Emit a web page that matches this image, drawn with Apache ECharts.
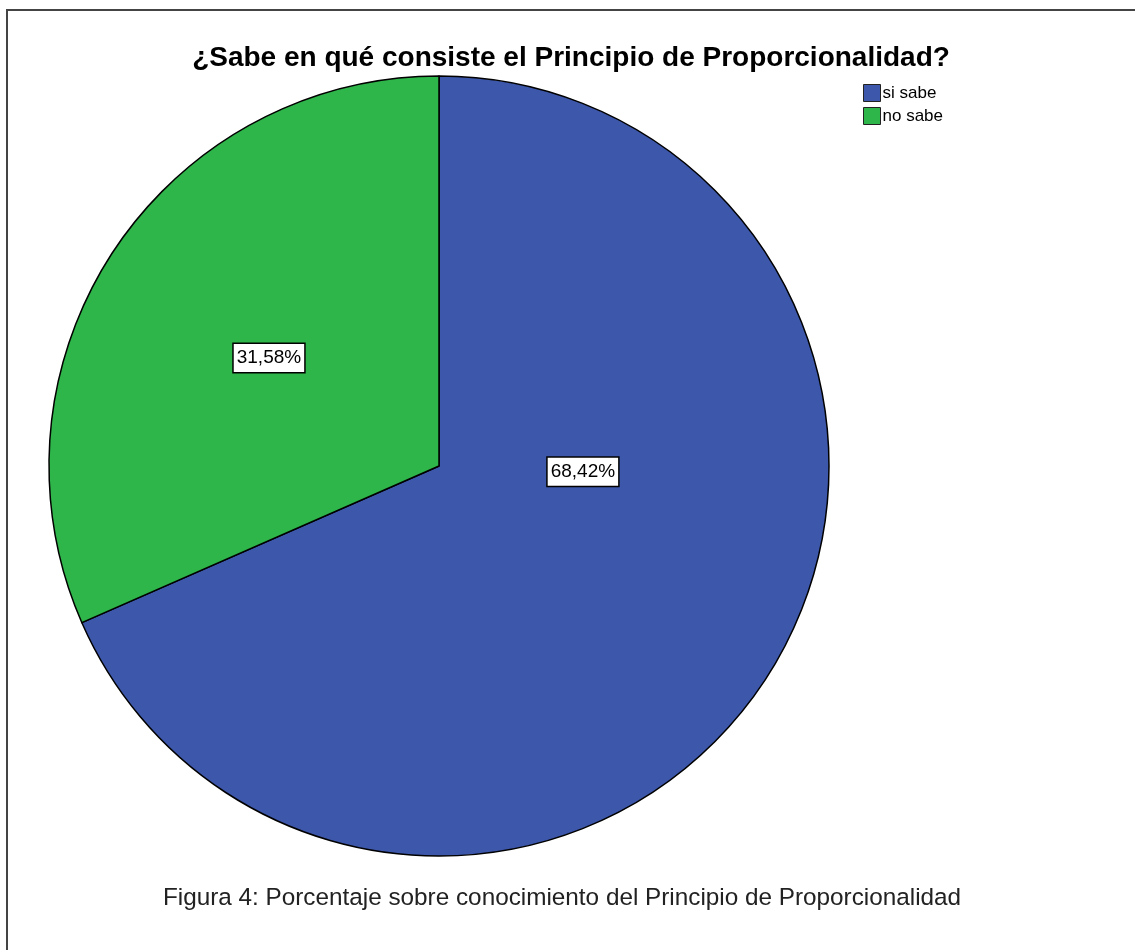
<!DOCTYPE html>
<html>
<head>
<meta charset="utf-8">
<script src="https://cdn.jsdelivr.net/npm/echarts@6/dist/echarts.min.js"></script>
<style>
html,body{margin:0;padding:0;background:#fff;}
#main{width:1135px;height:950px;}
</style>
</head>
<body>
<div id="main"></div>
<script>
var titleText = '¿Sabe en qué consiste el Principio de Proporcionalidad?';
var captionText = 'Figura 4: Porcentaje sobre conocimiento del Principio de Proporcionalidad';
var categories = ['si sabe', 'no sabe'];
var values = [68.42, 31.58];
var colors = ['#3D57AA', '#2EB64A'];

// label placement (fraction of radius from centre), SPSS-like
var labelOffsets = [[0.369, 0.015], [-0.436, -0.277]];

var chart = echarts.init(document.getElementById('main'));
var cx = 439, cy = 466, R = 390;

chart.setOption({
  backgroundColor: '#fff',
  animation: false,
  title: {
    text: titleText,
    left: 566, top: 39, textAlign: 'center',
    textStyle: {fontFamily: 'Liberation Sans, Arial', fontWeight: 'bold', fontSize: 28, color: '#000'}
  },
  legend: {
    orient: 'vertical',
    left: 858, top: 79,
    itemWidth: 17, itemHeight: 17, itemGap: 5,
    icon: 'rect',
    data: categories,
    textStyle: {fontFamily: 'Liberation Sans, Arial', fontSize: 17, color: '#000', padding: [0,0,0,-3]},
    itemStyle: {borderColor: '#222', borderWidth: 1}
  },
  graphic: [
    {type: 'rect', shape: {x: 7, y: 10, width: 1200, height: 1000},
     style: {fill: 'none', stroke: '#444', lineWidth: 2}, silent: true},
    {type: 'text', x: 562, y: 898,
     style: {text: captionText, fontFamily: 'Liberation Sans, Arial', fontSize: 24.3,
             fill: '#222', align: 'center', verticalAlign: 'middle'}}
  ],
  series: [{
    type: 'pie',
    center: [cx, cy],
    radius: [0, R],
    startAngle: 90,
    clockwise: true,
    avoidLabelOverlap: false,
    data: categories.map(function (c, i) {
      return {name: c, value: values[i], itemStyle: {color: colors[i]}};
    }),
    itemStyle: {borderColor: '#000', borderWidth: 1.5},
    label: {
      show: true,
      position: 'inside',
      formatter: function (p) { return p.value.toFixed(2).replace('.', ',') + '%'; },
      fontFamily: 'Liberation Sans, Arial',
      fontSize: 19,
      color: '#000',
      backgroundColor: '#fff',
      borderColor: '#000',
      borderWidth: 1.5,
      padding: [5, 3, 4, 3]
    },
    labelLine: {show: false},
    labelLayout: function (p) {
      var o = labelOffsets[p.dataIndex];
      return {x: cx + o[0] * R, y: cy + o[1] * R, align: 'center', verticalAlign: 'middle'};
    },
    emphasis: {disabled: true}
  }]
});
</script>
</body>
</html>
